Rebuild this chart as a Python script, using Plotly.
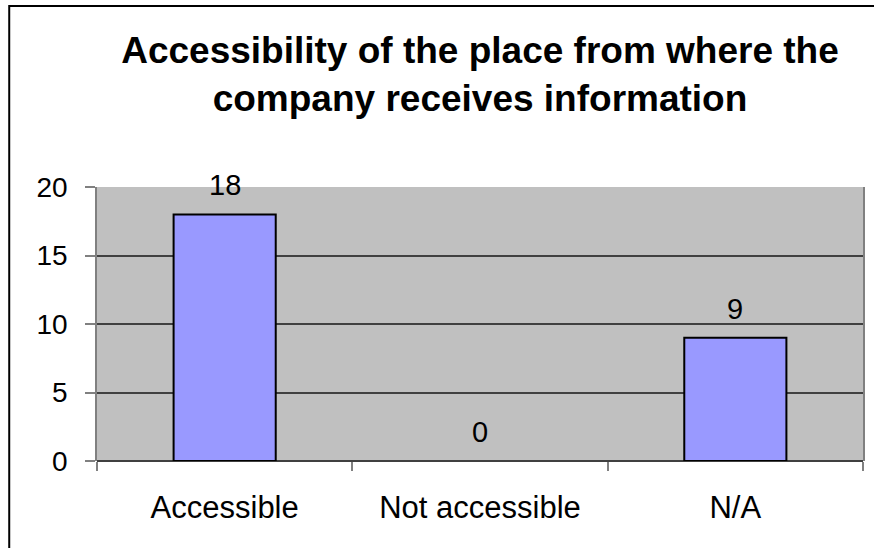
import plotly.graph_objects as go

# Survey counts: accessibility of the place the company receives information from
categories = ["Accessible", "Not accessible", "N/A"]
counts = [18, 0, 9]
y_ticks = [0, 5, 10, 15, 20]

W, H = 874, 548
ML, MR, MT, MB = 97, 9, 187, 87
plot_w = W - ML - MR
plot_h = H - MT - MB

FONT = "Liberation Sans, Arial, sans-serif"

fig = go.Figure()
fig.add_trace(go.Bar(
    x=categories,
    y=counts,
    width=0.4,
    marker=dict(
        color="#9999FF",
        # no outline on an empty bar, so it does not draw a stray segment
        line=dict(color="#000000", width=[2 if v else 0 for v in counts]),
    ),
    hoverinfo="x+y",
))

# value labels sitting above each bar
for cat, val in zip(categories, counts):
    fig.add_annotation(
        x=cat, y=val, xref="x", yref="y",
        text=str(val), showarrow=False,
        yanchor="middle", yshift=29,
        font=dict(family=FONT, size=29, color="#000000"),
    )

# outer chart frame (runs off the right and bottom of the canvas)
def px_to_paper_x(px):
    return (px - ML) / plot_w

def px_to_paper_y(py):
    return (H - MB - py) / plot_h

fig.add_shape(
    type="rect", xref="paper", yref="paper",
    x0=px_to_paper_x(9), x1=px_to_paper_x(W + 20),
    y0=px_to_paper_y(H + 20), y1=px_to_paper_y(6),
    line=dict(color="#000000", width=2), fillcolor="rgba(0,0,0,0)",
    layer="above",
)

fig.update_layout(
    width=W, height=H,
    margin=dict(l=ML, r=MR, t=MT, b=MB, pad=0),
    paper_bgcolor="#FFFFFF",
    plot_bgcolor="#C0C0C0",
    showlegend=False,
    bargap=0.6,
    title=dict(
        text="<b>Accessibility of the place from where the<br>company receives information</b>",
        x=0.5, xref="paper", xanchor="center",
        y=1 - 63 / H, yref="container", yanchor="top",
        font=dict(family=FONT, size=37, color="#000000"),
    ),
    font=dict(family=FONT, color="#000000"),
    xaxis=dict(
        type="category",
        showgrid=False,
        zeroline=False,
        showline=False,
        ticks="outside",
        tickson="boundaries",
        ticklen=9,
        tickwidth=1.5,
        tickcolor="#808080",
        ticklabelstandoff=25,
        tickfont=dict(family=FONT, size=31, color="#000000"),
        fixedrange=True,
    ),
    yaxis=dict(
        range=[0, 20],
        tickvals=y_ticks,
        ticktext=[str(v) for v in y_ticks],
        showgrid=True,
        gridcolor="#404040",
        gridwidth=1.5,
        zeroline=True,
        zerolinecolor="#404040",
        zerolinewidth=1.5,
        showline=True,
        mirror=True,
        linecolor="#808080",
        linewidth=1.5,
        ticks="outside",
        ticklen=10,
        tickwidth=1.5,
        tickcolor="#808080",
        ticklabelstandoff=12,
        tickfont=dict(family=FONT, size=28, color="#000000"),
        fixedrange=True,
    ),
)

fig.write_html("out.html")
